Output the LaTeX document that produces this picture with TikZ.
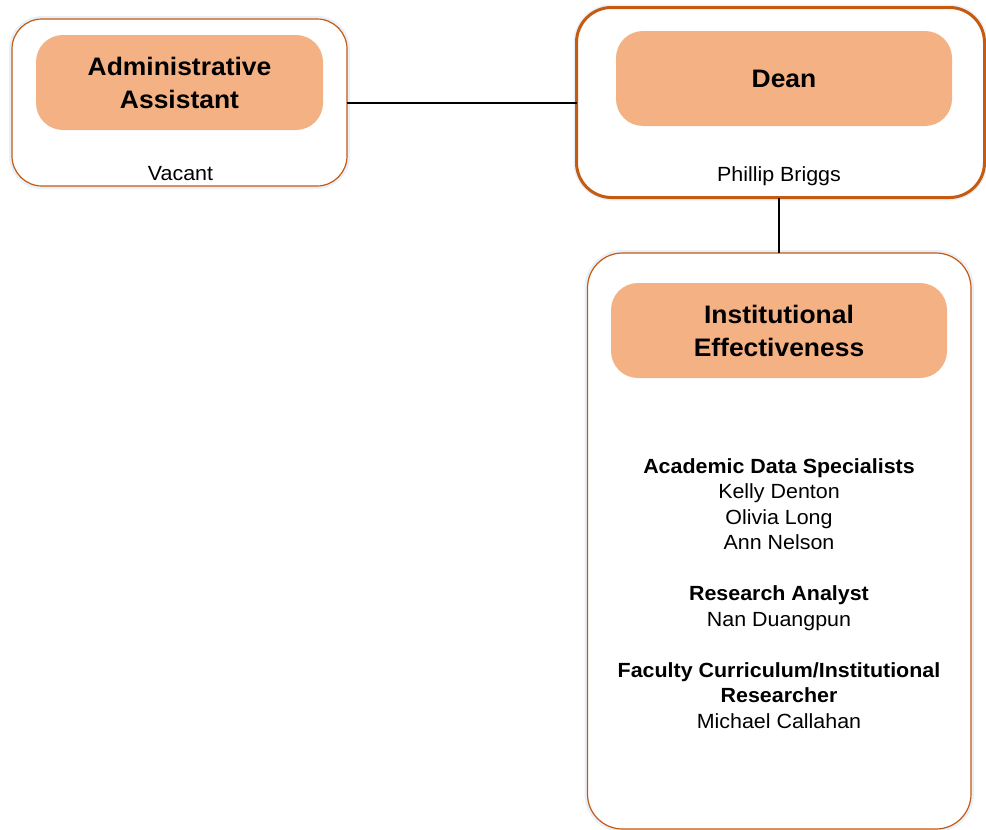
\documentclass[tikz,border=0pt]{standalone}
\usepackage{fontspec}
\setmainfont{Liberation Sans}[FakeStretch=1.045]
\definecolor{boxline}{HTML}{C55A11}
\definecolor{boxfill}{HTML}{F4B183}
\definecolor{halo}{HTML}{EAF0F8}
\begin{document}
\begin{tikzpicture}[x=1pt,y=-1pt,
  outerbox/.style={draw=boxline, line width=1.2pt, rounded corners=30pt, fill=white,
    inner sep=0pt, outer sep=0pt, preaction={draw=halo, line width=6pt}},
  titlebox/.style={fill=boxfill, rounded corners=27pt, inner sep=0pt, outer sep=0pt,
    align=center, font=\fontsize{25.3}{33}\selectfont\bfseries},
  namelabel/.style={anchor=base, inner sep=0pt, font=\fontsize{20.5}{25.5}\selectfont},
  bodytext/.style={anchor=north, inner sep=0pt, align=center, font=\fontsize{20.5}{25.5}\selectfont},
  link/.style={draw=black, line width=2pt}]
\useasboundingbox[fill=white] (0,0) rectangle (986,830);

% Administrative Assistant
\node[outerbox, minimum width=335pt, minimum height=167pt] (admin) at (179.5,102.5) {};
\node[titlebox, minimum width=287pt, minimum height=95pt] (admintitle) at (179.5,82.5) {Administrative\\Assistant};
\node[namelabel] (adminname) at (180.5,180) {Vacant};

% Dean
\node[outerbox, line width=3pt, rounded corners=35pt, minimum width=408pt, minimum height=190pt] (dean) at (780.5,102.5) {};
\node[titlebox, minimum width=336pt, minimum height=95pt] (deantitle) at (784,78.5) {Dean};
\node[namelabel] (deanname) at (779,181) {Phillip Briggs};

% Institutional Effectiveness
\node[outerbox, rounded corners=35pt, minimum width=383.5pt, minimum height=576pt] (ie) at (779.25,541) {};
\node[titlebox, minimum width=336pt, minimum height=95pt] (ietitle) at (779,330.5) {Institutional\\Effectiveness};
\node[bodytext] (ietext) at (779,458) {\textbf{Academic Data Specialists}\\Kelly Denton\\Olivia Long\\Ann Nelson\\[25.5pt]
\textbf{Research Analyst}\\Nan Duangpun\\[25.5pt]
\textbf{Faculty Curriculum/Institutional}\\\textbf{Researcher}\\Michael Callahan};

% connectors
\draw[link] (admin.east) -- (admin.east -| dean.west);
\draw[link] (ie.north) -- (ie.north |- dean.south);
\end{tikzpicture}
\end{document}
